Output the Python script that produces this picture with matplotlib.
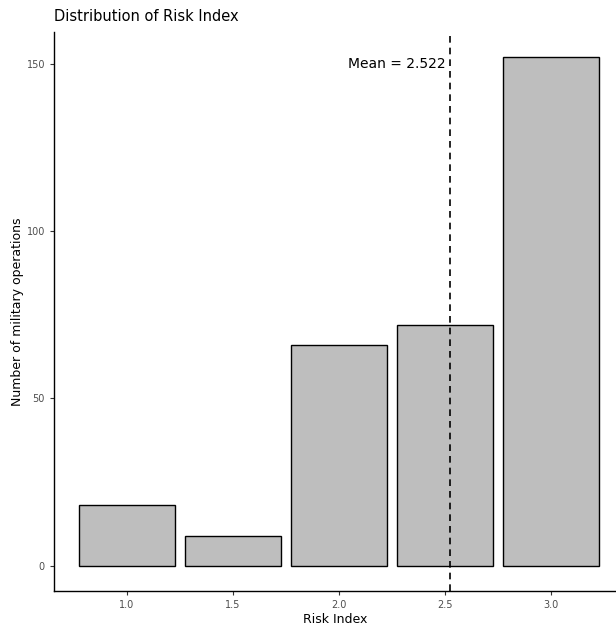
import matplotlib.pyplot as plt
import numpy as np

# Risk index histogram (bin centres and counts)
risk_values = [1.0, 1.5, 2.0, 2.5, 3.0]
counts = [18, 9, 66, 72, 152]
mean_risk = 2.522
x_ticks = [1.0, 1.5, 2.0, 2.5, 3.0]
y_ticks = [0, 50, 100, 150]

fig = plt.figure(figsize=(6.16, 6.28), dpi=100)
ax = fig.add_axes([54 / 616, 37 / 628, 1 - 54 / 616, (591 - 32) / 628])

ax.bar(risk_values, counts, width=0.45, color='#bebebe', edgecolor='black', linewidth=1.0)

# dashed mean line with label
ax.axvline(mean_risk, color='black', linestyle=(0, (4, 3)), linewidth=1.2)
ax.text(mean_risk - 0.02, 150, f'Mean = {mean_risk:.3f}', ha='right', va='center', fontsize=10)

ax.set_xlim(0.656, 3.307)
ax.set_ylim(-7.6, 159.6)
ax.set_xticks(x_ticks)
ax.set_xticklabels([f'{v:.1f}' for v in x_ticks])
ax.set_yticks(y_ticks)
ax.tick_params(axis='both', labelsize=7, labelcolor='#4d4d4d', length=3, width=0.8, color='#333333')

for side in ['top', 'right']:
    ax.spines[side].set_visible(False)
for side in ['left', 'bottom']:
    ax.spines[side].set_linewidth(1.0)
    ax.spines[side].set_color('black')

ax.set_xlabel('Risk Index', fontsize=9, labelpad=2)
ax.set_ylabel('Number of military operations', fontsize=9, labelpad=2)
ax.set_title('Distribution of Risk Index', loc='left', fontsize=10.5, pad=8)

plt.savefig('out.png', dpi=100)
